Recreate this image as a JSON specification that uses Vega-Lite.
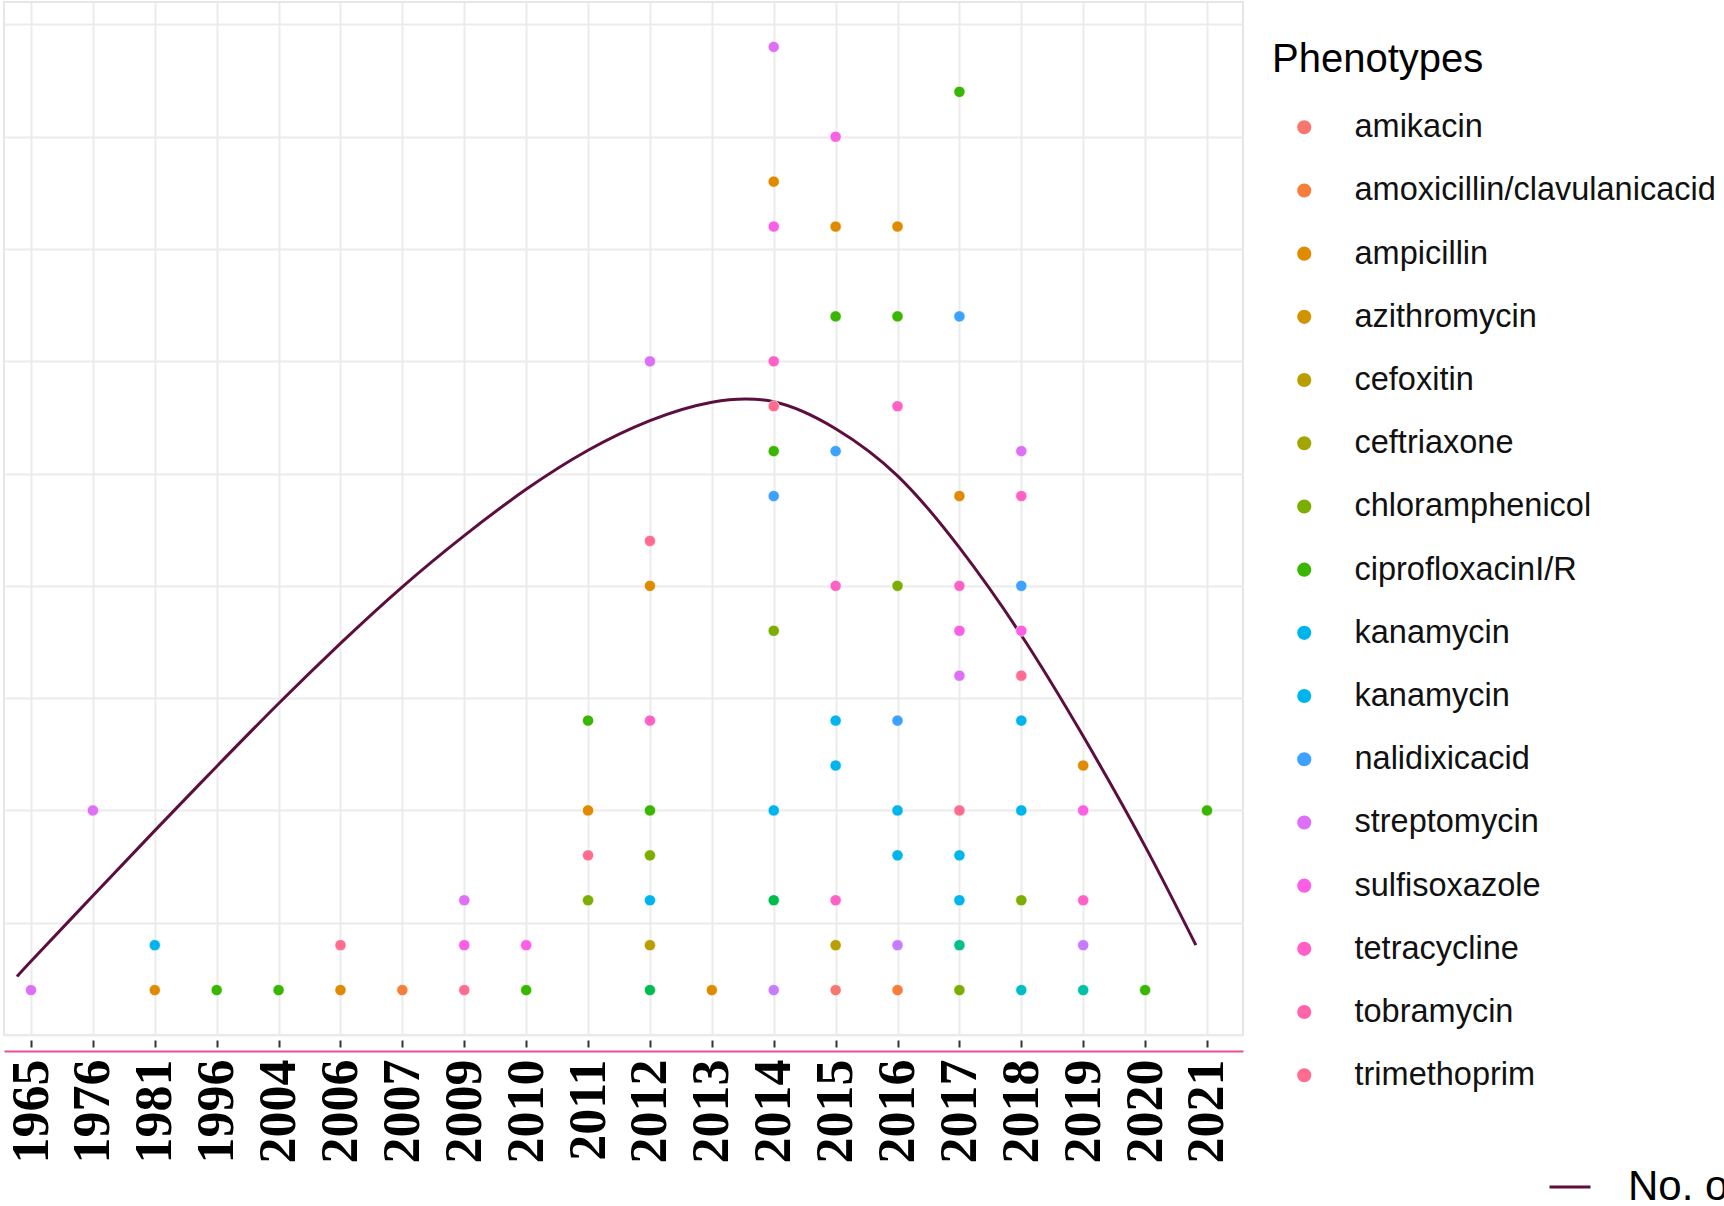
{
  "$schema": "https://vega.github.io/schema/vega-lite/v6.json",
  "autosize": {"type": "none"},
  "padding": {"left": 4, "top": 2, "right": 481, "bottom": 171},
  "width": 1239,
  "height": 1033,
  "background": "white",
  "config": {
    "view": {"stroke": "#E6E6E6", "strokeWidth": 2},
    "font": "Liberation Sans"
  },
  "datasets": {
    "isolates": [
      {"year": "1965", "row": 1, "phenotype": "streptomycin"},
      {"year": "1976", "row": 5, "phenotype": "streptomycin"},
      {"year": "1981", "row": 1, "phenotype": "ampicillin"},
      {"year": "1981", "row": 2, "phenotype": "kanamycin"},
      {"year": "1996", "row": 1, "phenotype": "ciprofloxacinI/R"},
      {"year": "2004", "row": 1, "phenotype": "ciprofloxacinI/R"},
      {"year": "2006", "row": 1, "phenotype": "ampicillin"},
      {"year": "2006", "row": 2, "phenotype": "trimethoprim"},
      {"year": "2007", "row": 1, "phenotype": "amoxicillin/clavulanicacid"},
      {"year": "2009", "row": 1, "phenotype": "trimethoprim"},
      {"year": "2009", "row": 2, "phenotype": "sulfisoxazole"},
      {"year": "2009", "row": 3, "phenotype": "streptomycin"},
      {"year": "2010", "row": 1, "phenotype": "ciprofloxacinI/R"},
      {"year": "2010", "row": 2, "phenotype": "sulfisoxazole"},
      {"year": "2011", "row": 3, "phenotype": "chloramphenicol"},
      {"year": "2011", "row": 4, "phenotype": "trimethoprim"},
      {"year": "2011", "row": 5, "phenotype": "ampicillin"},
      {"year": "2011", "row": 7, "phenotype": "ciprofloxacinI/R"},
      {"year": "2012", "row": 1, "phenotype": "gentamicin"},
      {"year": "2012", "row": 2, "phenotype": "cefoxitin"},
      {"year": "2012", "row": 3, "phenotype": "kanamycin"},
      {"year": "2012", "row": 4, "phenotype": "chloramphenicol"},
      {"year": "2012", "row": 5, "phenotype": "ciprofloxacinI/R"},
      {"year": "2012", "row": 7, "phenotype": "tetracycline"},
      {"year": "2012", "row": 10, "phenotype": "ampicillin"},
      {"year": "2012", "row": 11, "phenotype": "trimethoprim"},
      {"year": "2012", "row": 15, "phenotype": "streptomycin"},
      {"year": "2013", "row": 1, "phenotype": "ampicillin"},
      {"year": "2014", "row": 1, "phenotype": "cefotaxime"},
      {"year": "2014", "row": 3, "phenotype": "gentamicin"},
      {"year": "2014", "row": 5, "phenotype": "kanamycin"},
      {"year": "2014", "row": 9, "phenotype": "chloramphenicol"},
      {"year": "2014", "row": 12, "phenotype": "nalidixicacid"},
      {"year": "2014", "row": 13, "phenotype": "ciprofloxacinI/R"},
      {"year": "2014", "row": 14, "phenotype": "trimethoprim"},
      {"year": "2014", "row": 15, "phenotype": "tetracycline"},
      {"year": "2014", "row": 18, "phenotype": "sulfisoxazole"},
      {"year": "2014", "row": 19, "phenotype": "ampicillin"},
      {"year": "2014", "row": 22, "phenotype": "streptomycin"},
      {"year": "2015", "row": 1, "phenotype": "amikacin"},
      {"year": "2015", "row": 2, "phenotype": "cefoxitin"},
      {"year": "2015", "row": 3, "phenotype": "tetracycline"},
      {"year": "2015", "row": 6, "phenotype": "kanamycin"},
      {"year": "2015", "row": 7, "phenotype": "kanamycin"},
      {"year": "2015", "row": 10, "phenotype": "tetracycline"},
      {"year": "2015", "row": 13, "phenotype": "nalidixicacid"},
      {"year": "2015", "row": 16, "phenotype": "ciprofloxacinI/R"},
      {"year": "2015", "row": 18, "phenotype": "ampicillin"},
      {"year": "2015", "row": 20, "phenotype": "sulfisoxazole"},
      {"year": "2016", "row": 1, "phenotype": "amoxicillin/clavulanicacid"},
      {"year": "2016", "row": 2, "phenotype": "cefotaxime"},
      {"year": "2016", "row": 4, "phenotype": "kanamycin"},
      {"year": "2016", "row": 5, "phenotype": "kanamycin"},
      {"year": "2016", "row": 7, "phenotype": "nalidixicacid"},
      {"year": "2016", "row": 10, "phenotype": "chloramphenicol"},
      {"year": "2016", "row": 14, "phenotype": "tetracycline"},
      {"year": "2016", "row": 16, "phenotype": "ciprofloxacinI/R"},
      {"year": "2016", "row": 18, "phenotype": "ampicillin"},
      {"year": "2017", "row": 1, "phenotype": "chloramphenicol"},
      {"year": "2017", "row": 2, "phenotype": "imipenem"},
      {"year": "2017", "row": 3, "phenotype": "kanamycin"},
      {"year": "2017", "row": 4, "phenotype": "kanamycin"},
      {"year": "2017", "row": 5, "phenotype": "trimethoprim"},
      {"year": "2017", "row": 8, "phenotype": "streptomycin"},
      {"year": "2017", "row": 9, "phenotype": "sulfisoxazole"},
      {"year": "2017", "row": 10, "phenotype": "tetracycline"},
      {"year": "2017", "row": 12, "phenotype": "ampicillin"},
      {"year": "2017", "row": 16, "phenotype": "nalidixicacid"},
      {"year": "2017", "row": 21, "phenotype": "ciprofloxacinI/R"},
      {"year": "2018", "row": 1, "phenotype": "colistin"},
      {"year": "2018", "row": 3, "phenotype": "chloramphenicol"},
      {"year": "2018", "row": 5, "phenotype": "kanamycin"},
      {"year": "2018", "row": 7, "phenotype": "kanamycin"},
      {"year": "2018", "row": 8, "phenotype": "trimethoprim"},
      {"year": "2018", "row": 9, "phenotype": "sulfisoxazole"},
      {"year": "2018", "row": 10, "phenotype": "nalidixicacid"},
      {"year": "2018", "row": 12, "phenotype": "tetracycline"},
      {"year": "2018", "row": 13, "phenotype": "streptomycin"},
      {"year": "2019", "row": 1, "phenotype": "meropenem"},
      {"year": "2019", "row": 2, "phenotype": "cefotaxime"},
      {"year": "2019", "row": 3, "phenotype": "tetracycline"},
      {"year": "2019", "row": 5, "phenotype": "sulfisoxazole"},
      {"year": "2019", "row": 6, "phenotype": "ampicillin"},
      {"year": "2020", "row": 1, "phenotype": "ciprofloxacinI/R"},
      {"year": "2021", "row": 5, "phenotype": "ciprofloxacinI/R"}
    ],
    "trend": [
      {"idx": -0.223, "row": 1.3},
      {"idx": 0, "row": 1.64},
      {"idx": 1, "row": 3.1},
      {"idx": 2, "row": 4.55},
      {"idx": 3, "row": 5.98},
      {"idx": 4, "row": 7.38},
      {"idx": 5, "row": 8.72},
      {"idx": 6, "row": 9.98},
      {"idx": 7, "row": 11.12},
      {"idx": 8, "row": 12.15},
      {"idx": 9, "row": 13.02},
      {"idx": 10, "row": 13.68},
      {"idx": 11, "row": 14.09},
      {"idx": 12, "row": 14.1},
      {"idx": 13, "row": 13.5},
      {"idx": 14, "row": 12.45},
      {"idx": 15, "row": 10.85},
      {"idx": 16, "row": 8.9},
      {"idx": 17, "row": 6.65},
      {"idx": 18, "row": 4.2},
      {"idx": 18.82, "row": 2.0}
    ]
  },
  "resolve": {"scale": {"x": "independent"}},
  "encoding": {
    "y": {
      "field": "row",
      "type": "quantitative",
      "scale": {"domain": [0, 23], "nice": false, "zero": false},
      "axis": {
        "values": [0, 2.5, 5, 7.5, 10, 12.5, 15, 17.5, 20, 22.5],
        "grid": true,
        "gridColor": "#EBEBEB",
        "gridWidth": 2,
        "labels": false,
        "ticks": false,
        "domain": false,
        "title": null
      }
    }
  },
  "layer": [
    {
      "data": {"name": "trend"},
      "mark": {"type": "line", "interpolate": "natural", "strokeWidth": 3},
      "encoding": {
        "x": {
          "field": "idx",
          "type": "quantitative",
          "scale": {"domain": [-0.4362, 19.581], "nice": false, "zero": false},
          "axis": {
            "orient": "bottom",
            "offset": 16,
            "domain": true,
            "domainColor": "#E8509A",
            "domainWidth": 2,
            "ticks": false,
            "labels": false,
            "grid": false,
            "title": null
          }
        },
        "stroke": {
          "datum": "No. of isolates",
          "type": "nominal",
          "scale": {"range": ["#5C0F3F"]},
          "legend": {
            "orient": "none",
            "legendX": 1544,
            "legendY": 1163,
            "title": null,
            "padding": 0,
            "symbolType": "stroke",
            "symbolSize": 1681,
            "symbolStrokeWidth": 3,
            "labelFont": "Liberation Sans",
            "labelFontSize": 42,
            "labelOffset": 36,
            "labelColor": "black",
            "labelLimit": 0
          }
        }
      }
    },
    {
      "data": {"name": "isolates"},
      "mark": {"type": "circle", "size": 125, "opacity": 1, "stroke": "white", "strokeWidth": 0.6},
      "encoding": {
        "x": {
          "field": "year",
          "type": "ordinal",
          "scale": {
            "type": "point",
            "padding": 0.509,
            "align": 0.4286,
            "domain": ["1965", "1976", "1981", "1996", "2004", "2006", "2007", "2009", "2010", "2011", "2012", "2013", "2014", "2015", "2016", "2017", "2018", "2019", "2020", "2021"]
          },
          "axis": {
            "orient": "bottom",
            "offset": 5,
            "domain": false,
            "ticks": true,
            "tickSize": 7,
            "tickWidth": 2,
            "tickColor": "#333333",
            "labelPadding": 12,
            "labelAngle": -90,
            "labelFont": "Liberation Serif",
            "labelFontWeight": "bold",
            "labelFontSize": 52,
            "labelColor": "black",
            "labelOverlap": false,
            "grid": true,
            "gridColor": "#EBEBEB",
            "gridWidth": 2,
            "title": null
          }
        },
        "color": {
          "field": "phenotype",
          "type": "nominal",
          "scale": {
            "domain": ["amikacin", "amoxicillin/clavulanicacid", "ampicillin", "azithromycin", "cefoxitin", "ceftriaxone", "chloramphenicol", "ciprofloxacinI/R", "kanamycin", "kanamycin ", "nalidixicacid", "streptomycin", "sulfisoxazole", "tetracycline", "tobramycin", "trimethoprim", "gentamicin", "imipenem", "meropenem", "colistin", "cefotaxime"],
            "range": ["#F8766D", "#F57E3A", "#E08A00", "#D19300", "#B89E00", "#A3A500", "#7CAE00", "#39B600", "#00B5EC", "#00B5EC", "#3DA1FF", "#DE70F8", "#FA5FE6", "#FF61C6", "#FF64AB", "#FF6C8F", "#00BB4E", "#00C08B", "#00C1A7", "#00BFC4", "#C77CFF"]
          },
          "legend": {
            "orient": "none",
            "legendX": 1268,
            "legendY": 38,
            "padding": 0,
            "title": "Phenotypes",
            "titleFont": "Liberation Sans",
            "titleFontSize": 40,
            "titleFontWeight": "normal",
            "titleColor": "black",
            "titleLimit": 600,
            "titlePadding": 31,
            "values": ["amikacin", "amoxicillin/clavulanicacid", "ampicillin", "azithromycin", "cefoxitin", "ceftriaxone", "chloramphenicol", "ciprofloxacinI/R", "kanamycin", "kanamycin ", "nalidixicacid", "streptomycin", "sulfisoxazole", "tetracycline", "tobramycin", "trimethoprim"],
            "symbolType": "circle",
            "symbolSize": 200,
            "symbolOffset": 16,
            "symbolStrokeWidth": 0,
            "labelOffset": 34,
            "labelFont": "Liberation Sans",
            "labelFontSize": 32.5,
            "labelColor": "#111111",
            "labelLimit": 0,
            "rowPadding": 30.2
          }
        }
      }
    }
  ]
}
